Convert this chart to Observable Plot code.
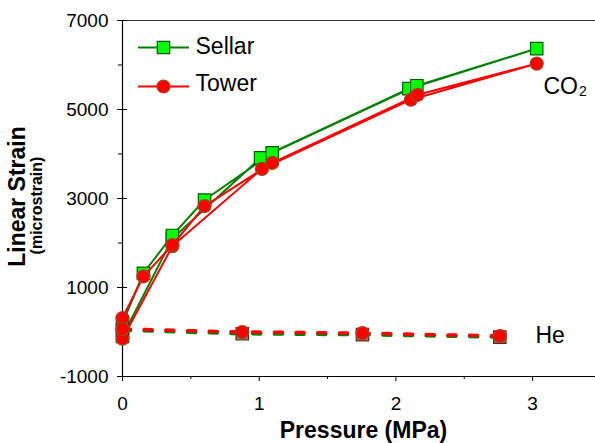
<!DOCTYPE html>
<html><head><meta charset="utf-8">
<script src="https://cdn.jsdelivr.net/npm/d3@7"></script>
<script src="https://cdn.jsdelivr.net/npm/@observablehq/plot@0.6"></script>
<style>body{margin:0;background:#fff}</style>
</head><body><div id="chart"></div>
<script>
// ---- data ----
const xMajor = [0, 1, 2, 3];
const xMinor = [0.5, 1.5, 2.5];
const yMajor = [-1000, 1000, 3000, 5000, 7000];
const yMinor = [0, 2000, 4000, 6000];
const seriesNames = ["Sellar", "Tower"];
const gasNames = ["CO", "He"];

// CO2 loading/unloading loop (pressure MPa, strain microstrain)
const sellarCO2P = [0, 0.365, 1.01, 2.095, 3.03, 2.153, 1.095, 0.6, 0.365, 0.153, 0];
const sellarCO2S = [-100, 2100, 3913, 5468, 6369, 5535, 4025, 2966, 2170, 1320, 200];
const towerCO2P  = [0, 0.365, 1.02, 2.11, 3.03, 2.16, 1.095, 0.6, 0.365, 0.153, 0];
const towerCO2S  = [-150, 1930, 3665, 5220, 6031, 5330, 3800, 2830, 1955, 1250, 315];
// Helium
const sellarHeP = [0, 0.876, 1.755, 2.76];
const sellarHeS = [40, -40, -60, -115];
const towerHeP  = [0, 0.876, 1.755, 2.76];
const towerHeS  = [67, 0, -25, -90];

const rows = (P, S) => P.map((p, i) => ({p, s: S[i]}));

const green = "#008000", lime = "#00ff00", sqStroke = "#005a00";
const red = "#ff0000", ciStroke = "#a0461e";
const lineSym = {draw(ctx) { ctx.moveTo(-25.5, 0); ctx.lineTo(25.5, 0); }};
const blank = () => "";

const chart = Plot.plot({
  width: 595, height: 443,
  marginLeft: 122, marginRight: 0, marginTop: 20, marginBottom: 67,
  x: {domain: [0, 3.46]},
  y: {domain: [-1000, 7000]},
  style: {fontFamily: "'Liberation Sans', Arial, sans-serif", fontSize: "19px", color: "#000", background: "#fff", overflow: "visible"},
  marks: [
    // frame lines
    Plot.ruleY([7000], {stroke: "#333", strokeWidth: 1}),
    Plot.ruleX([0], {stroke: "#000", strokeWidth: 1.2}),
    Plot.ruleY([-1000], {stroke: "#000", strokeWidth: 1.2}),
    // ticks
    Plot.axisY({ticks: yMajor, tickSize: 10, dx: 5, tickFormat: blank, label: null}),
    Plot.axisY({ticks: yMinor, tickSize: 4, tickFormat: blank, label: null}),
    Plot.axisY({ticks: yMajor, tickSize: 0, tickPadding: 14, tickFormat: d => `${d}`, label: null}),
    Plot.axisX({ticks: xMajor, tickSize: 5, tickFormat: blank, label: null}),
    Plot.axisX({ticks: xMinor, tickSize: 3, tickFormat: blank, label: null}),
    Plot.axisX({ticks: xMajor, tickSize: 0, tickPadding: 20, tickFormat: d => `${d}`, label: null}),

    // Sellar
    Plot.line(rows(sellarCO2P, sellarCO2S), {x: "p", y: "s", stroke: green, strokeWidth: 2}),
    Plot.dot(rows(sellarCO2P, sellarCO2S), {x: "p", y: "s", symbol: "square", r: 7, fill: lime, stroke: sqStroke, strokeWidth: 1.2}),
    Plot.line(rows(sellarHeP, sellarHeS), {x: "p", y: "s", stroke: green, strokeWidth: 3.5, strokeDasharray: "8,13.7"}),
    Plot.dot(rows(sellarHeP, sellarHeS), {x: "p", y: "s", symbol: "square", r: 7, fill: "#5aa05a", stroke: "#7a1a10", strokeWidth: 1.2}),
    // Tower
    Plot.line(rows(towerCO2P, towerCO2S), {x: "p", y: "s", stroke: red, strokeWidth: 2}),
    Plot.line(rows(towerHeP, towerHeS), {x: "p", y: "s", stroke: red, strokeWidth: 3.5, strokeDasharray: "8,13.7"}),
    Plot.dot(rows(towerCO2P, towerCO2S), {x: "p", y: "s", symbol: "circle", r: 6.5, fill: red, stroke: ciStroke, strokeWidth: 1.2}),
    Plot.dot(rows(towerHeP, towerHeS), {x: "p", y: "s", symbol: "circle", r: 6.5, fill: red, stroke: ciStroke, strokeWidth: 1.2}),

    // legend
    Plot.dot([seriesNames[0]], {frameAnchor: "top-left", dx: 41, dy: 27, symbol: lineSym, stroke: green, strokeWidth: 2}),
    Plot.dot([seriesNames[0]], {frameAnchor: "top-left", dx: 41, dy: 27, symbol: "square", r: 7, fill: lime, stroke: sqStroke, strokeWidth: 1.2}),
    Plot.text([seriesNames[0]], {frameAnchor: "top-left", dx: 73, dy: 33.5, text: d => d, textAnchor: "start", lineAnchor: "bottom", fontSize: 23}),
    Plot.dot([seriesNames[1]], {frameAnchor: "top-left", dx: 41, dy: 66, symbol: lineSym, stroke: red, strokeWidth: 2}),
    Plot.dot([seriesNames[1]], {frameAnchor: "top-left", dx: 41, dy: 66, symbol: "circle", r: 6.5, fill: red, stroke: ciStroke, strokeWidth: 1.2}),
    Plot.text([seriesNames[1]], {frameAnchor: "top-left", dx: 73, dy: 70, text: d => d, textAnchor: "start", lineAnchor: "bottom", fontSize: 23}),

    // gas labels
    Plot.text([gasNames[0]], {frameAnchor: "top-right", dx: -52, dy: 73, text: d => d, textAnchor: "start", lineAnchor: "bottom", fontSize: 23}),
    Plot.text(["2"], {frameAnchor: "top-right", dx: -16.5, dy: 75.5, text: d => d, textAnchor: "start", lineAnchor: "bottom", fontSize: 14}),
    Plot.text([gasNames[1]], {frameAnchor: "top-right", dx: -60, dy: 322, text: d => d, textAnchor: "start", lineAnchor: "bottom", fontSize: 23}),

    // axis titles
    Plot.text(["Pressure (MPa)"], {frameAnchor: "bottom", dx: 4.5, dy: 61, text: d => d, textAnchor: "middle", lineAnchor: "bottom", fontSize: 23, fontWeight: "bold"}),
    Plot.text(["Linear Strain"], {frameAnchor: "left", dx: -98, dy: -2, rotate: -90, text: d => d, textAnchor: "middle", lineAnchor: "bottom", fontSize: 23, fontWeight: "bold"}),
    Plot.text(["(microstrain)"], {frameAnchor: "left", dx: -81, dy: 7, rotate: -90, text: d => d, textAnchor: "middle", lineAnchor: "bottom", fontSize: 16, fontWeight: "bold"})
  ]
});
document.getElementById("chart").appendChild(chart);
</script>
</body></html>
